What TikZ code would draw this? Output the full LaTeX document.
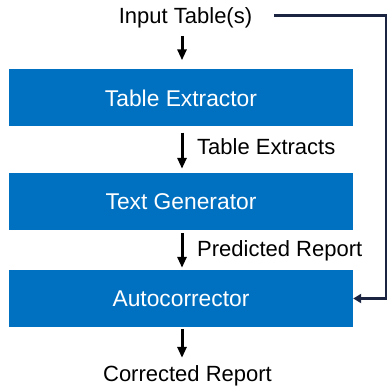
\documentclass[tikz,border=0pt]{standalone}
\usepackage{fontspec}
\setmainfont{Liberation Sans}
\usetikzlibrary{arrows.meta}
\definecolor{boxblue}{HTML}{0070C0}
\definecolor{navy}{HTML}{1B2541}
\begin{document}
\begin{tikzpicture}[x=1pt,y=-1pt,
  procbox/.style={draw=none,fill=boxblue,text=white,minimum width=344pt,minimum height=57pt,inner sep=0pt,font=\fontsize{22.8}{27}\selectfont},
  lbl/.style={inner sep=0pt,font=\fontsize{22}{26}\selectfont,text=black},
  arr/.style={line width=3pt,-{Triangle[length=11pt,width=9pt]}},
  fb/.style={draw=navy,line width=2.6pt,-{Triangle[length=8pt,width=9pt]}}]
\useasboundingbox (0,0) rectangle (388,390);
\node[procbox] (b1) at (181,98) {Table Extractor};
\node[procbox] (b2) at (181,201.5) {Text Generator};
\node[procbox] (b3) at (181,298.5) {Autocorrector};
\node[lbl,anchor=base] (in) at (185.5,24) {Input Table(s)};
\node[lbl,anchor=base west] (l1) at (197,154.3) {Table Extracts};
\node[lbl,anchor=base west] (l2) at (197,256) {Predicted Report};
\node[lbl,anchor=base] (out) at (187.5,381.5) {Corrected Report};
\draw[arr,shorten <=7pt,shorten >=9pt] ([xshift=1pt]in.south -| b1.north) -- ([xshift=1pt]b1.north);
\draw[arr,shorten <=6pt,shorten >=4pt] ([xshift=1pt]b1.south) -- ([xshift=1pt]b2.north);
\draw[arr,shorten <=3pt,shorten >=2pt] ([xshift=1pt]b2.south) -- ([xshift=1pt]b3.north);
\draw[arr,shorten <=2pt,shorten >=7.5pt] ([xshift=1pt]b3.south) -- ([xshift=1pt]b3.south |- out.north);
\coordinate (fs) at (274,15.5);
\coordinate (fc) at (386,15.5);
\draw[fb] (fs) -- (fc) |- (b3.east);
\end{tikzpicture}
\end{document}
